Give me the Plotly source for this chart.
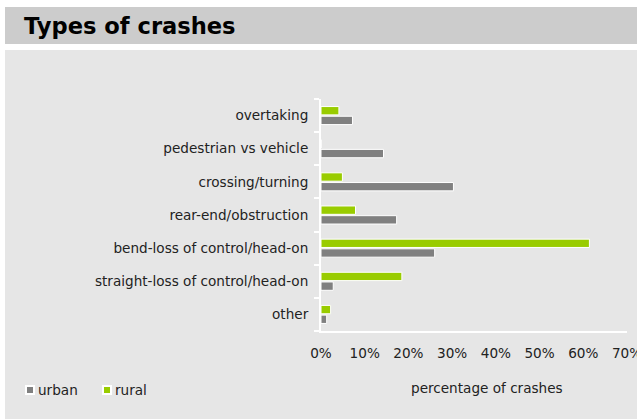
import plotly.graph_objects as go

# ---- data ----
categories = [
    "other",
    "straight-loss of control/head-on",
    "bend-loss of control/head-on",
    "rear-end/obstruction",
    "crossing/turning",
    "pedestrian vs vehicle",
    "overtaking",
]
urban = [1.3, 2.8, 26.0, 17.3, 30.3, 14.3, 7.2]
rural = [2.2, 18.5, 61.4, 7.9, 4.9, 0.0, 4.1]
x_tick_vals = [0, 10, 20, 30, 40, 50, 60, 70]
x_tick_text = ["0%", "10%", "20%", "30%", "40%", "50%", "60%", "70%"]
series_names = ["urban", "rural"]
series_colors = ["#808080", "#99cc00"]

# ---- layout geometry (pixels) ----
W, H = 637, 419
L, R, T, B = 321, 10, 99, 88
PW, PH = W - L - R, H - T - B


def px(x):
    return (x - L) / PW


def py(y):
    return (H - B - y) / PH


FONT = "DejaVu Sans, Verdana, sans-serif"
TXT = "#222222"
FS = 13.6

fig = go.Figure()
for name, vals, col in zip(series_names, [urban, rural], series_colors):
    fig.add_trace(go.Bar(
        y=categories, x=vals, name=name, orientation="h",
        marker=dict(color=col, line=dict(color="white", width=1)),
        showlegend=False, hoverinfo="skip",
    ))

shapes = [
    dict(type="rect", xref="paper", yref="paper", x0=px(5), x1=px(637), y0=py(7), y1=py(44),
         fillcolor="#cccccc", line=dict(width=0), layer="below"),
    dict(type="rect", xref="paper", yref="paper", x0=px(5), x1=px(637), y0=py(50), y1=py(419),
         fillcolor="#e6e6e6", line=dict(width=0), layer="below"),
]
annotations = [
    dict(text="<b>Types of crashes</b>", xref="paper", yref="paper", x=px(22), y=py(26),
         xanchor="left", yanchor="middle", showarrow=False,
         font=dict(family=FONT, size=22.6, color="#000000")),
    dict(text="percentage of crashes", xref="paper", yref="paper", x=px(487), y=py(388),
         xanchor="center", yanchor="middle", showarrow=False,
         font=dict(family=FONT, size=FS, color=TXT)),
]
# legend
leg_x = [30, 107]
for name, col, cx in zip(series_names, series_colors, leg_x):
    shapes.append(dict(type="rect", xref="paper", yref="paper",
                       x0=px(cx - 4), x1=px(cx + 4), y0=py(394), y1=py(386),
                       fillcolor=col, line=dict(color="white", width=2)))
    annotations.append(dict(text=name, xref="paper", yref="paper", x=px(cx + 6), y=py(390),
                            xanchor="left", yanchor="middle", showarrow=False,
                            font=dict(family=FONT, size=FS, color=TXT)))

fig.update_layout(
    width=W, height=H,
    margin=dict(l=L, r=R, t=T, b=B, pad=0, autoexpand=False),
    paper_bgcolor="white",
    plot_bgcolor="rgba(0,0,0,0)",
    barmode="group",
    bargap=0.415,
    bargroupgap=0.14,
    shapes=shapes,
    annotations=annotations,
    hovermode=False,
    font=dict(family=FONT, size=FS, color=TXT),
    xaxis=dict(
        range=[0, 70], tickvals=x_tick_vals, ticktext=x_tick_text,
        showgrid=False, zeroline=False, showline=True, linecolor="white", linewidth=2,
        ticks="", ticklabelstandoff=9, ticklabeloverflow="allow", automargin=False,
        tickfont=dict(family=FONT, size=FS, color=TXT),
        fixedrange=True,
    ),
    yaxis=dict(
        categoryorder="array", categoryarray=categories,
        showgrid=False, zeroline=False, showline=True, linecolor="white", linewidth=2,
        ticks="outside", tickson="boundaries", ticklen=5, tickwidth=2, tickcolor="white",
        ticklabelstandoff=8, automargin=False, tickfont=dict(family=FONT, size=FS, color=TXT),
        fixedrange=True,
    ),
)

fig.write_html(
    "out.html",
    config={"displayModeBar": False, "staticPlot": True},
    post_script="document.body.style.margin='0';document.body.style.overflow='hidden';",
)
